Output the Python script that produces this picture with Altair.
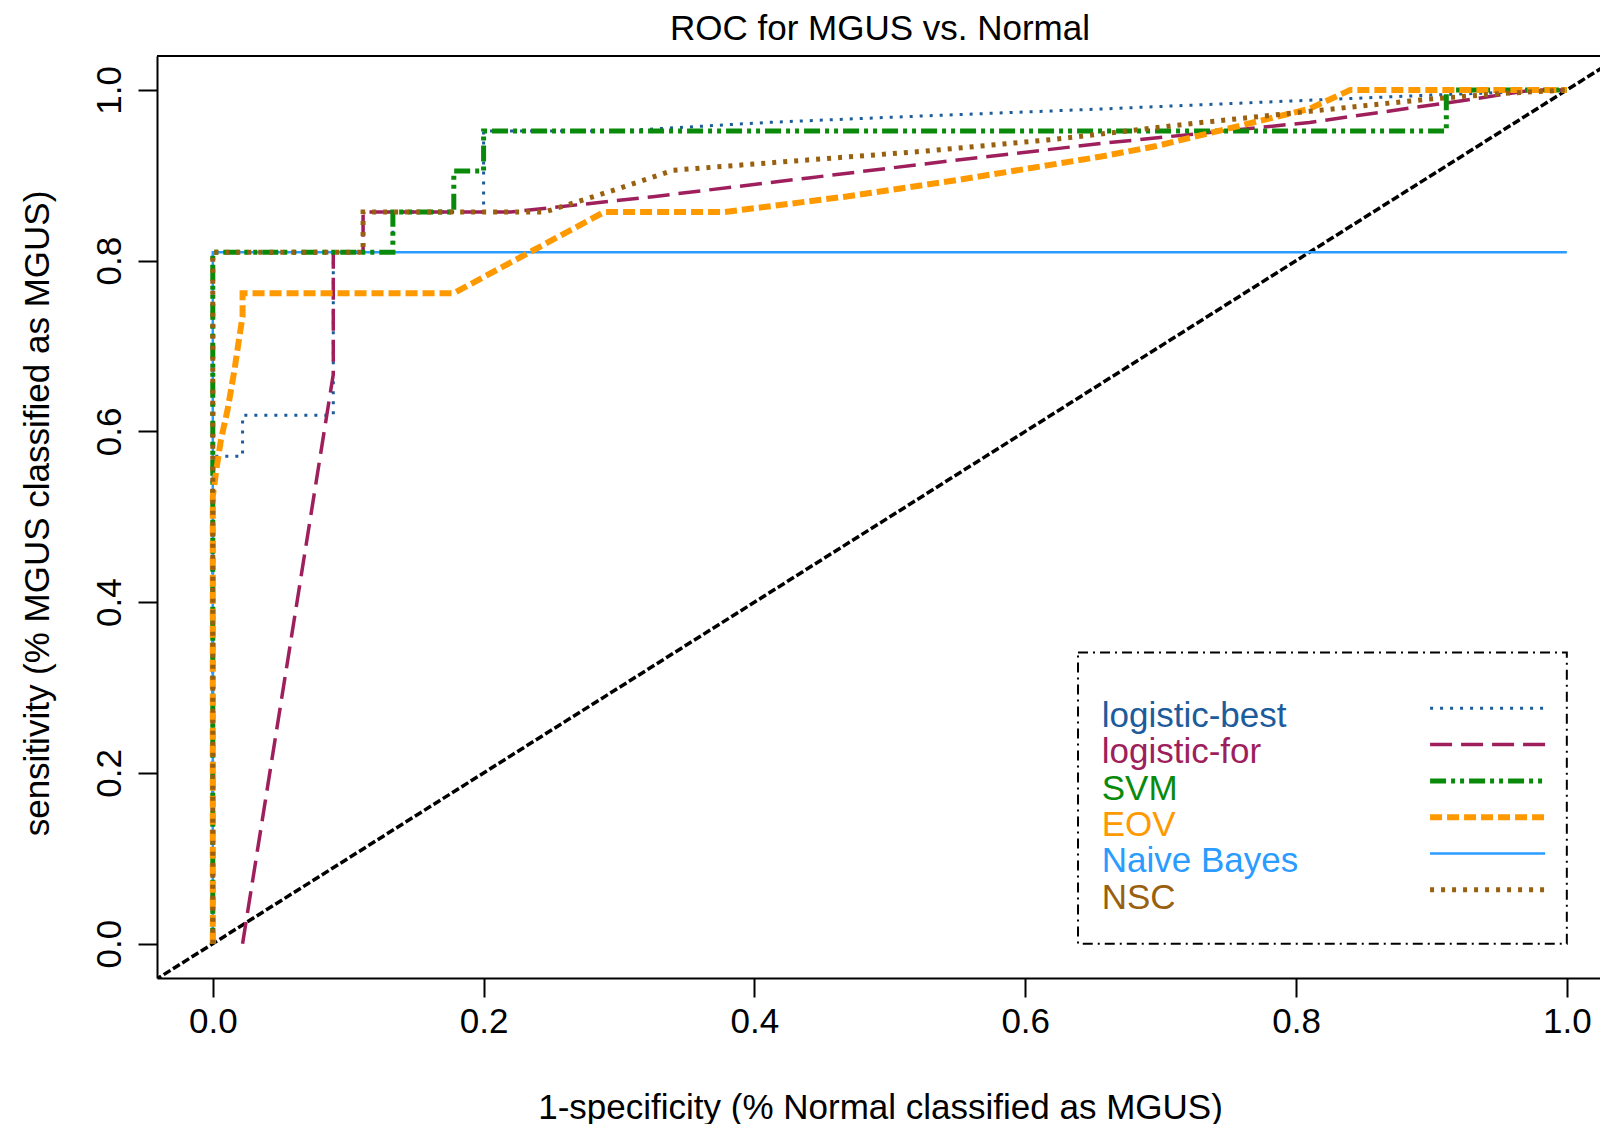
import altair as alt
import pandas as pd

# ---------------- data ----------------
series_names = ["logistic-best", "logistic-for", "SVM", "EOV", "Naive Bayes", "NSC"]

best_x = [0, 0, 0.022, 0.022, 0.089, 0.089, 0.133, 0.133, 0.2, 0.2, 0.2, 0.30, 0.41, 0.50, 0.58, 0.66, 0.81, 0.90, 1.0]
best_y = [0, 0.571, 0.571, 0.619, 0.619, 0.810, 0.810, 0.857, 0.857, 0.905, 0.952, 0.952, 0.962, 0.968, 0.973, 0.978, 0.988, 0.994, 1.0]

for_x = [0.022, 0.089, 0.089, 0.111, 0.111, 0.22, 0.325, 0.44, 0.55, 0.66, 0.81, 0.925, 0.975, 1.0]
for_y = [0, 0.667, 0.810, 0.810, 0.857, 0.857, 0.875, 0.897, 0.918, 0.938, 0.962, 0.988, 1.0, 1.0]

svm_x = [0, 0, 0.133, 0.133, 0.178, 0.178, 0.2, 0.2, 0.911, 0.911, 1.0]
svm_y = [0, 0.810, 0.810, 0.857, 0.857, 0.905, 0.905, 0.952, 0.952, 1.0, 1.0]

eov_x = [0, 0, 0.003, 0.006, 0.011, 0.016, 0.019, 0.022, 0.022, 0.178, 0.289, 0.378, 0.467, 0.552, 0.656, 0.696, 0.81, 0.84, 1.0]
eov_y = [0, 0.524, 0.559, 0.590, 0.626, 0.672, 0.704, 0.735, 0.762, 0.762, 0.857, 0.857, 0.875, 0.895, 0.922, 0.934, 0.978, 1.0, 1.0]

nb_x = [0, 0, 1.0]
nb_y = [0, 0.810, 0.810]

nsc_x = [0, 0, 0.111, 0.111, 0.245, 0.297, 0.340, 0.439, 0.523, 0.62, 0.725, 0.81, 0.896, 0.953, 1.0]
nsc_y = [0, 0.810, 0.810, 0.857, 0.857, 0.883, 0.906, 0.918, 0.928, 0.942, 0.961, 0.975, 0.989, 0.996, 1.0]

diag_x = [-0.05, 1.05]
diag_y = [-0.05, 1.05]

tick_values = [0.0, 0.2, 0.4, 0.6, 0.8, 1.0]

title_text = "ROC for MGUS vs. Normal"
x_title = "1-specificity (% Normal classified as MGUS)"
y_title = "sensitivity (% MGUS classified as MGUS)"

# ---------------- styles ----------------
FONT = "Liberation Sans"
PLOT_W, PLOT_H = 1443, 922
colors = {
    "logistic-best": "#1c5c9c",
    "logistic-for": "#9e1f5c",
    "SVM": "#0a8a0a",
    "EOV": "#ff9900",
    "Naive Bayes": "#2a9bff",
    "NSC": "#99600f",
}
dashes = {
    "logistic-best": [3, 7],
    "logistic-for": [22, 9],
    "SVM": [16, 5, 4, 5, 4, 5],
    "EOV": [12, 5],
    "Naive Bayes": [1, 0],
    "NSC": [4, 7],
}
widths = {
    "logistic-best": 3,
    "logistic-for": 3.5,
    "SVM": 5,
    "EOV": 6,
    "Naive Bayes": 2.5,
    "NSC": 5,
}

data_xy = {
    "logistic-best": (best_x, best_y),
    "logistic-for": (for_x, for_y),
    "SVM": (svm_x, svm_y),
    "EOV": (eov_x, eov_y),
    "Naive Bayes": (nb_x, nb_y),
    "NSC": (nsc_x, nsc_y),
}

xs = alt.Scale(domain=[-0.0412, 1.0245], nice=False, zero=False)
ys = alt.Scale(domain=[-0.0402, 1.0398], nice=False, zero=False)

xaxis = alt.Axis(
    values=tick_values, format=".1f", title=x_title, grid=False,
    domain=True, domainColor="black", domainWidth=2,
    tickSize=19, tickWidth=2, tickColor="black",
    labelFont=FONT, labelFontSize=35, labelColor="black",
    labelBaseline="alphabetic", labelPadding=35, labelFlush=False, labelOverlap=False,
    titleFont=FONT, titleFontSize=35, titleFontWeight="normal", titleColor="black",
    titleX=723, titleY=140, titleAlign="center", titleBaseline="alphabetic",
)
yaxis = alt.Axis(
    values=tick_values, format=".1f", title=y_title, grid=False,
    domain=True, domainColor="black", domainWidth=2,
    tickSize=19, tickWidth=2, tickColor="black",
    labelFont=FONT, labelFontSize=35, labelColor="black", labelAngle=270,
    labelAlign="center", labelBaseline="alphabetic", labelPadding=18,
    labelFlush=False, labelOverlap=False,
    titleFont=FONT, titleFontSize=35, titleFontWeight="normal", titleColor="black",
    titleAngle=270, titleX=-108.5, titleY=457, titleAlign="center", titleBaseline="alphabetic",
)


def X(f="x"):
    return alt.X(f"{f}:Q", scale=xs, axis=xaxis)


def Y(f="y"):
    return alt.Y(f"{f}:Q", scale=ys, axis=yaxis)


layers = []

# diagonal reference line
diag_df = pd.DataFrame({"x": diag_x, "y": diag_y, "i": range(len(diag_x))})
layers.append(
    alt.Chart(diag_df).mark_line(color="black", strokeDash=[8, 3], strokeWidth=3.5, clip=True)
    .encode(x=X(), y=Y(), order="i:Q")
)

draw_order = ["logistic-best", "logistic-for", "Naive Bayes", "SVM", "EOV", "NSC"]
for name in draw_order:
    sx, sy = data_xy[name]
    df = pd.DataFrame({"x": sx, "y": sy, "i": range(len(sx))})
    layers.append(
        alt.Chart(df).mark_line(
            color=colors[name], strokeDash=dashes[name], strokeWidth=widths[name],
            clip=True, strokeCap="butt", strokeJoin="miter",
        ).encode(x=X(), y=Y(), order="i:Q")
    )

# ---------------- manual legend (positions in data units) ----------------
box_df = pd.DataFrame({"x": [0.639], "x2": [1.0], "y": [0.0], "y2": [0.341]})
layers.append(
    alt.Chart(box_df).mark_rect(
        fillOpacity=0, stroke="black", strokeWidth=2, strokeDash=[10, 5, 2, 5]
    ).encode(x=X(), x2="x2:Q", y=Y(), y2="y2:Q")
)

text_x = 0.6565
line_x0, line_x1 = 0.899, 0.984
top_line_y = 0.2757
step = 0.0425
for k, name in enumerate(series_names):
    ly = top_line_y - k * step
    tdf = pd.DataFrame({"x": [text_x], "y": [ly - 0.022], "t": [name]})
    layers.append(
        alt.Chart(tdf).mark_text(
            align="left", baseline="alphabetic", font=FONT, fontSize=35, color=colors[name]
        ).encode(x=X(), y=Y(), text="t:N")
    )
    ldf = pd.DataFrame({"x": [line_x0], "x2": [line_x1], "y": [ly]})
    layers.append(
        alt.Chart(ldf).mark_rule(
            color=colors[name], strokeDash=dashes[name], strokeWidth=widths[name], strokeCap="butt"
        ).encode(x=X(), x2="x2:Q", y=Y())
    )

# top edge of the plot box (the right edge lies beyond the picture in the reference)
top_df = pd.DataFrame({"t": [title_text]})
layers.append(
    alt.Chart(top_df).mark_rule(color="black", strokeWidth=2).encode(
        x=alt.value(0), x2=alt.value(PLOT_W), y=alt.value(0)
    )
)

# chart title as text above the plot box
layers.append(
    alt.Chart(top_df).mark_text(
        align="center", baseline="alphabetic", font=FONT, fontSize=35, color="black"
    ).encode(x=alt.value(723), y=alt.value(-16), text="t:N")
)

chart = (
    alt.layer(*layers)
    .properties(
        width=PLOT_W,
        height=PLOT_H,
        padding={"left": 149, "top": 48, "right": 0, "bottom": 146},
        autosize=alt.AutoSizeParams(type="none"),
    )
    .configure_view(stroke=None)
    .configure(background="white")
)

chart.save("out.html", embed_options={"renderer": "svg", "actions": False})
